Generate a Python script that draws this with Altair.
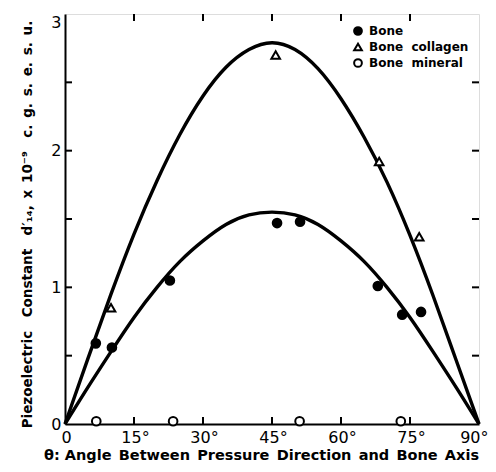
import altair as alt
import pandas as pd

# ---- data ----
curve_angle = [0, 5, 10, 15, 20, 25, 30, 35, 40, 45, 50, 55, 60, 65, 70, 75, 80, 85, 90]
collagen_curve = [0, 0.48, 0.95, 1.39, 1.78, 2.12, 2.40, 2.61, 2.74, 2.79, 2.74, 2.60, 2.38, 2.10, 1.77, 1.38, 0.94, 0.47, 0]
bone_curve = [0, 0.27, 0.53, 0.78, 1.00, 1.19, 1.34, 1.46, 1.53, 1.55, 1.53, 1.46, 1.34, 1.19, 1.00, 0.78, 0.53, 0.27, 0]

bone_angle = [6.7, 10.2, 22.8, 46.1, 51.1, 68.0, 73.3, 77.4]
bone_value = [0.59, 0.56, 1.05, 1.47, 1.48, 1.01, 0.80, 0.82]

collagen_angle = [10.0, 45.8, 68.3, 77.0]
collagen_value = [0.85, 2.70, 1.92, 1.37]

mineral_angle = [6.8, 23.5, 51.0, 73.0]
mineral_value = [0.02, 0.02, 0.02, 0.02]

samples = ["Bone", "Bone\u00a0\u00a0collagen", "Bone\u00a0\u00a0mineral"]

x_ticks = [15, 30, 45, 60, 75]
y_ticks = [0.5, 1, 1.5, 2, 2.5]

FONT = "DejaVu Sans"
W, H = 414, 410
SP = "\u2002"

curves = pd.DataFrame({
    "angle": curve_angle * 2,
    "value": collagen_curve + bone_curve,
    "curve": ["collagen"] * len(curve_angle) + ["bone"] * len(curve_angle),
})
points = pd.DataFrame({
    "angle": bone_angle + collagen_angle + mineral_angle,
    "value": bone_value + collagen_value + mineral_value,
    "sample": [samples[0]] * len(bone_angle) + [samples[1]] * len(collagen_angle)
              + [samples[2]] * len(mineral_angle),
})
xt = pd.DataFrame({"t": x_ticks})
yt = pd.DataFrame({"t": y_ticks})

xscale = alt.Scale(domain=[0, 90], nice=False, zero=False)
yscale = alt.Scale(domain=[0, 3], nice=False)

x_title = SP.join(["θ:\u00a0Angle", "Between", "Pressure", "Direction", "and", "Bone", "Axis"])
y_title = ("Piezoelectric" + SP * 2 + "Constant" + SP * 2 + "d′₁₄," + SP + "x" + SP + "10⁻⁹"
           + SP * 2 + SP.join(["c.", "g.", "s.", "e.", "s.", "u."]))

x_axis = alt.Axis(
    values=[0, 15, 30, 45, 60, 75, 90],
    labelExpr="datum.value == 0 ? '0' : datum.value + '°'",
    labelFlush=False,
    labelAlign={"condition": {"test": "datum.value == 90", "value": "right"}, "value": "center"},
    labelOffset={"condition": {"test": "datum.value == 90", "value": 9}, "value": 1},
    tickSize=0, grid=False, domainColor="black", domainWidth=2,
    labelFont=FONT, labelFontSize=16, labelColor="black", labelPadding=5,
    title=x_title,
    titleFont=FONT, titleFontSize=14.5, titleFontWeight="bold", titleColor="black",
    titleBaseline="alphabetic", titleX=196, titleY=35,
)
y_axis = alt.Axis(
    values=[0, 1, 2, 3], format="d", labelFlush=False,
    labelBaseline={"condition": {"test": "datum.value == 3", "value": "top"}, "value": "middle"},
    tickSize=0, grid=False, domainColor="black", domainWidth=2,
    labelFont=FONT, labelFontSize=16, labelColor="black", labelPadding=4,
    title=y_title,
    titleFont=FONT, titleFontSize=13.5, titleFontWeight="bold", titleColor="black",
    titleX=-34, titleY=210, titleAngle=-90, titleBaseline="alphabetic",
)

lines = alt.Chart(curves).mark_line(color="black", strokeWidth=3.4, interpolate="natural").encode(
    x=alt.X("angle:Q", scale=xscale, axis=x_axis),
    y=alt.Y("value:Q", scale=yscale, axis=y_axis),
    detail="curve:N",
)

legend = alt.Legend(title=None, orient="none", legendX=287, legendY=11,
                    labelFont=FONT, labelFontSize=12, labelFontWeight="bold",
                    labelColor="black", symbolSize=60, symbolStrokeWidth=2,
                    rowPadding=0, labelOffset=5)

pts = alt.Chart(points).mark_point(size=75, strokeWidth=2, opacity=1, filled=False).encode(
    x=alt.X("angle:Q", scale=xscale),
    y=alt.Y("value:Q", scale=yscale),
    shape=alt.Shape("sample:N", scale=alt.Scale(domain=samples,
                    range=["circle", "triangle-up", "circle"]), legend=legend),
    fill=alt.Fill("sample:N", scale=alt.Scale(domain=samples,
                  range=["black", "white", "white"]), legend=legend),
    stroke=alt.Stroke("sample:N", scale=alt.Scale(domain=samples,
                      range=["black", "black", "black"]), legend=legend),
)

bottom_ticks = alt.Chart(xt).mark_rule(color="black", strokeWidth=2).encode(
    x=alt.X("t:Q", scale=xscale), y=alt.value(H), y2=alt.value(H - 7))
top_ticks = alt.Chart(xt).mark_rule(color="black", strokeWidth=2).encode(
    x=alt.X("t:Q", scale=xscale), y=alt.value(0), y2=alt.value(7))
left_ticks = alt.Chart(yt).mark_rule(color="black", strokeWidth=2).encode(
    y=alt.Y("t:Q", scale=yscale), x=alt.value(0), x2=alt.value(7))
right_ticks = alt.Chart(yt).mark_rule(color="black", strokeWidth=2).encode(
    y=alt.Y("t:Q", scale=yscale), x=alt.value(W), x2=alt.value(W - 7))

chart = alt.layer(lines, bottom_ticks, top_ticks, left_ticks, right_ticks, pts).properties(
    width=W, height=H,
    autosize=alt.AutoSizeParams(type="none"),
    padding={"left": 57, "top": 6, "right": 9, "bottom": 40},
).configure_view(stroke="black", strokeWidth=1.5).configure(background="white")

chart.save("out.html", embed_options={"renderer": "svg", "actions": False})
